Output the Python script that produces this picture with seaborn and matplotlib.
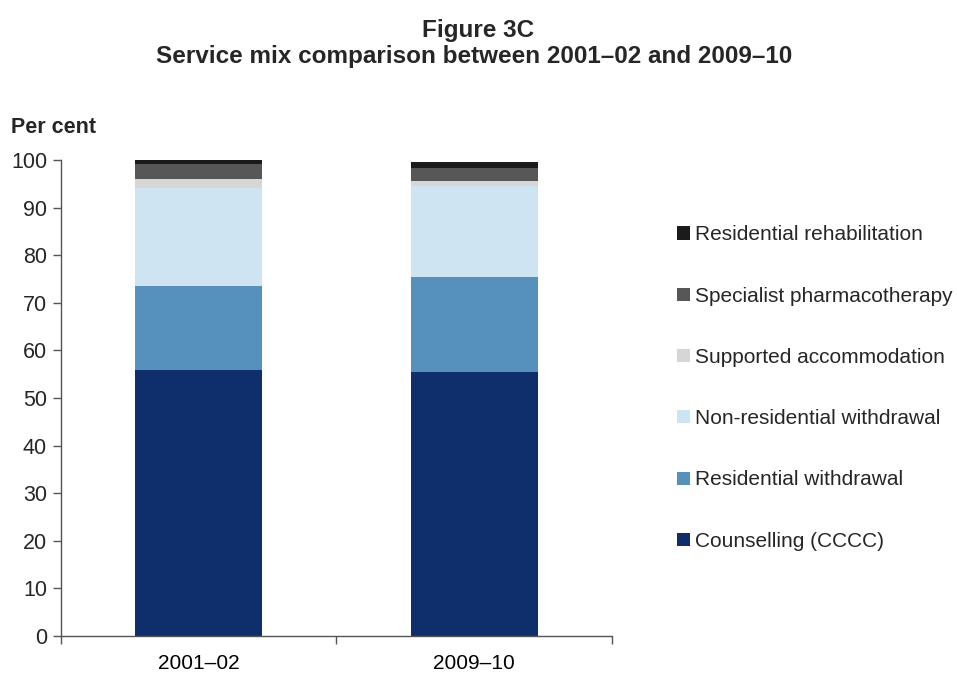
import matplotlib
matplotlib.use("Agg")
import matplotlib.pyplot as plt
import seaborn as sns
import pandas as pd
import numpy as np
from matplotlib.patches import Patch

categories = ["2001–02", "2009–10"]
series_names = ["Counselling (CCCC)", "Residential withdrawal", "Non-residential withdrawal",
                "Supported accommodation", "Specialist pharmacotherapy", "Residential rehabilitation"]
counselling = [55.8, 55.5]
res_withdrawal = [17.8, 20.0]
nonres_withdrawal = [20.6, 19.1]
supported_accom = [1.8, 0.9]
pharmacotherapy = [3.2, 2.8]
rehab = [0.8, 1.4]
colors = ["#0f2f6c", "#5690bd", "#cfe4f3", "#d6d6d6", "#575757", "#1b1b1b"]

sns.set_theme(style="white")
plt.rcParams["font.family"] = ["Liberation Sans", "DejaVu Sans"]

values = [counselling, res_withdrawal, nonres_withdrawal, supported_accom, pharmacotherapy, rehab]
cum = np.cumsum(np.array(values), axis=0)

fig = plt.figure(figsize=(9.57, 6.76), dpi=100)
ax = fig.add_axes([0.0637, 0.0592, 0.5758, 0.704])

for i in range(len(series_names) - 1, -1, -1):
    df = pd.DataFrame({"cat": categories, "val": cum[i]})
    sns.barplot(data=df, x="cat", y="val", color=colors[i], saturation=1,
                width=0.46, ax=ax, linewidth=0, edgecolor="none", zorder=2)

ax.set_xlim(-0.5, 1.5)
ax.set_ylim(0, 100)
ax.set_yticks(range(0, 101, 10))
ax.set_xlabel("")
ax.set_ylabel("")
ax.set_xticks([-0.5, 0.5, 1.5], minor=False)
ax.set_xticklabels([])
ax.set_xticks([0, 1], minor=True)
ax.set_xticklabels(categories, minor=True)
ax.tick_params(axis="x", which="major", direction="out", length=6, width=1, color="#555555", bottom=True)
ax.tick_params(axis="x", which="minor", length=0, labelsize=15, pad=13, colors="black")
ax.tick_params(axis="y", direction="out", length=6, width=1, color="#555555", left=True, labelsize=15.5, pad=4)
for s in ["top", "right"]:
    ax.spines[s].set_visible(False)
for s in ["left", "bottom"]:
    ax.spines[s].set_color("#555555")
    ax.spines[s].set_linewidth(1)

fig.text(0.5, 0.955, "Figure 3C", ha="center", va="center", fontsize=17.5, fontweight="bold")
fig.text(0.495, 0.916, "Service mix comparison between 2001–02 and 2009–10", ha="center", va="center",
         fontsize=17.5, fontweight="bold")
fig.text(0.012, 0.812, "Per cent", ha="left", va="center", fontsize=15.5, fontweight="bold")

handles = [Patch(facecolor=colors[i], edgecolor="none") for i in range(len(series_names) - 1, -1, -1)]
labels = [series_names[i] for i in range(len(series_names) - 1, -1, -1)]
fig.legend(handles, labels, loc="upper left", bbox_to_anchor=(0.699, 0.679), frameon=False,
           fontsize=15, handlelength=0.6, handleheight=0.6, handletextpad=0.25, labelspacing=2.03,
           borderaxespad=0)

fig.savefig("out.png", dpi=100)
